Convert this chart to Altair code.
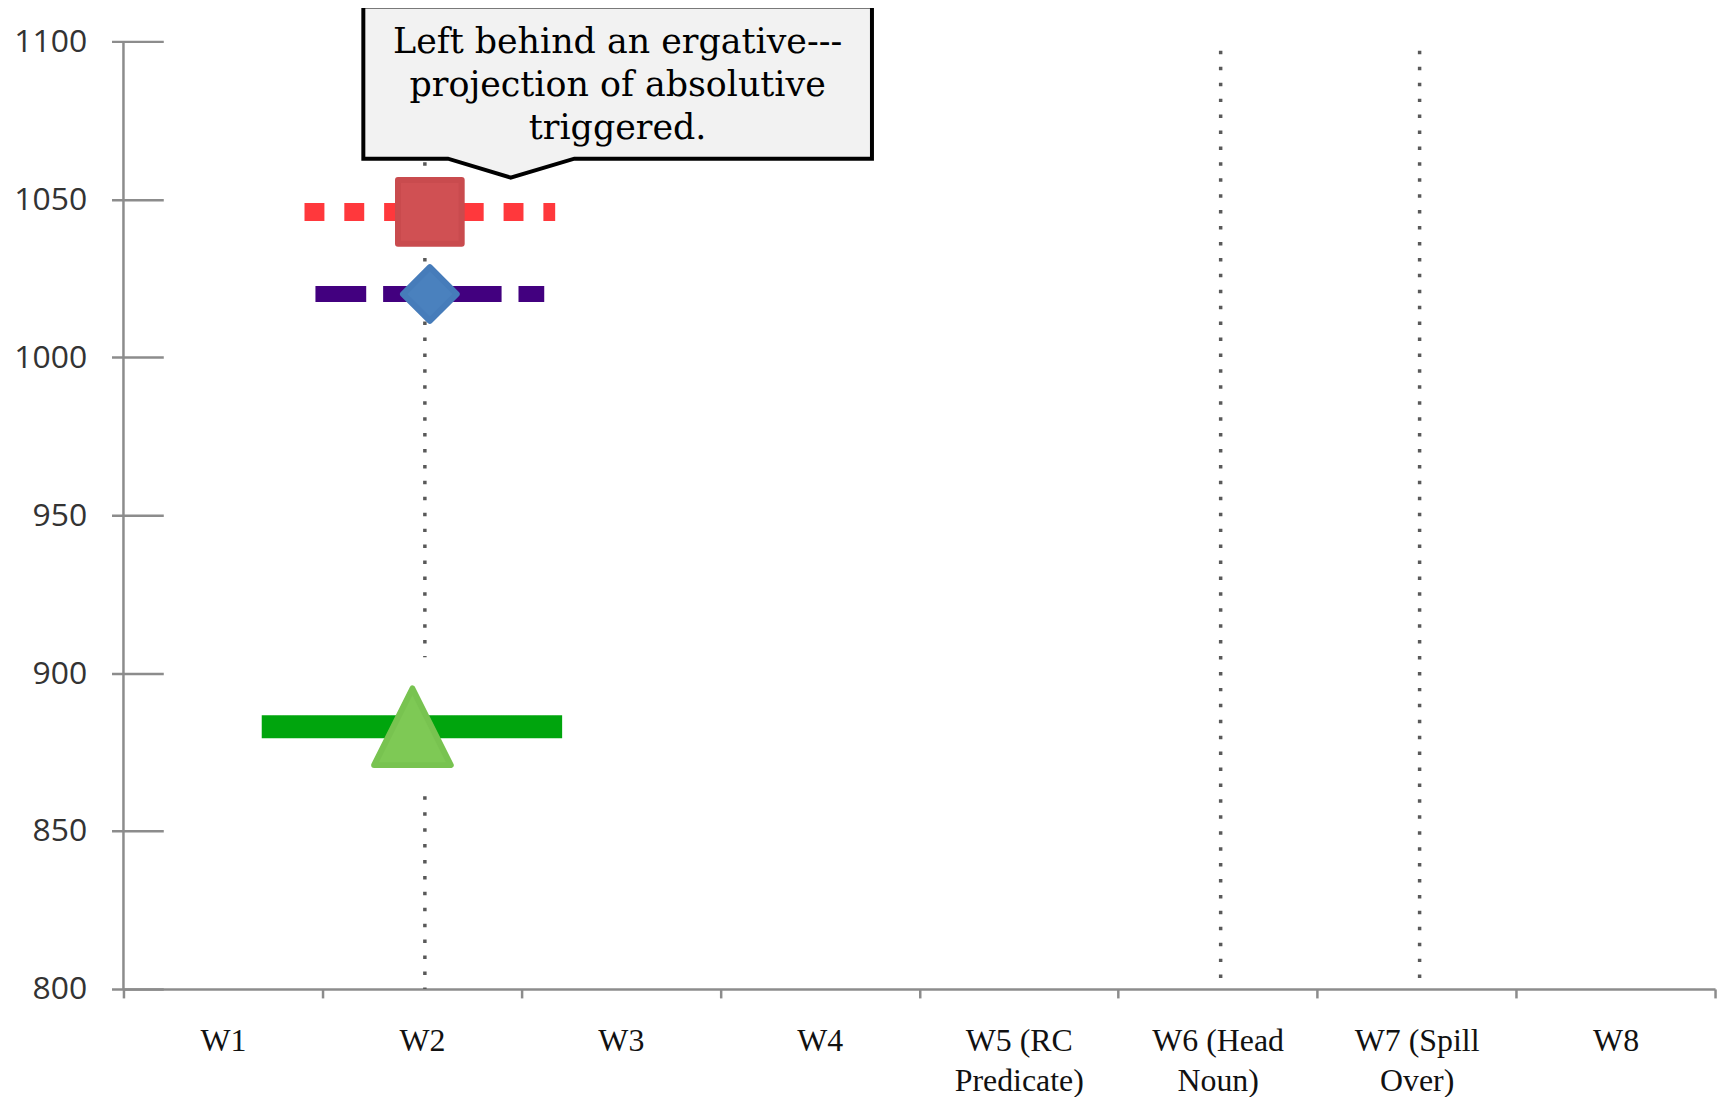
import altair as alt
import pandas as pd

# ---------------- data ----------------
categories = ["W1", "W2", "W3", "W4", "W5 (RC Predicate)", "W6 (Head Noun)", "W7 (Spill Over)", "W8"]
y_ticks = [800, 850, 900, 950, 1000, 1050, 1100]

series_names = ["Series 1", "Series 2", "Series 3"]
series_words = ["W2", "W2", "W2"]
series_values = [1046, 1020, 883]

guide_words = ["W2", "W2", "W6 (Head Noun)", "W7 (Spill Over)"]
guide_top = [1097, 861, 1097, 1097]
guide_bottom = [905, 800, 800, 800]

callout_text = "Left behind an ergative---\nprojection of absolutive\ntriggered."

# ---------------- layout / style (not data) ----------------
W, H = 1599, 952
AXIS_GRAY = "#8c8c8c"
seg_start = [0.91, 0.965, 0.695]   # horizontal extents of the series bars, in band units
seg_end = [2.17, 2.115, 2.205]
line_colors = ["#FF383C", "#42007F", "#00A50D"]
line_widths = [18, 16, 23]
line_dash = [[20, 20], [51, 17], [1, 0]]

yscale = alt.Scale(domain=[800, 1100], nice=False, zero=False)
qscale = alt.Scale(domain=[0, 8], nice=False, zero=False)
band_scale = alt.Scale(type="band", domain=categories, paddingInner=0, paddingOuter=0)

label_expr = ("length(split(datum.label, ' ')) > 2 ? "
              "[split(datum.label, ' ')[0] + ' ' + split(datum.label, ' ')[1], split(datum.label, ' ')[2]]"
              " : datum.label")

x_axis = alt.Axis(title=None, tickBand="extent", labelAngle=0, labelExpr=label_expr,
                  labelFont="Liberation Serif", labelFontSize=32, labelColor="#111111",
                  labelLineHeight=40, labelPadding=28, tickSize=9, tickColor=AXIS_GRAY,
                  tickWidth=2.5, domainColor=AXIS_GRAY, domainWidth=2.5, labelOverlap=False,
                  labelLimit=0, grid=False)
y_axis = alt.Axis(title=None, values=y_ticks, format="d", offset=-40, tickSize=52, domain=False,
                  grid=False, labelFont="Open Sans", labelFontSize=32, labelColor="#333333",
                  labelPadding=25, tickColor=AXIS_GRAY, tickWidth=2.5)


def Y(field):
    return alt.Y(field, scale=yscale, axis=y_axis, title=None)


guides = pd.DataFrame({"word": guide_words, "top": guide_top, "bottom": guide_bottom})
guide_layer = alt.Chart(guides).mark_rule(
    color="#595959", strokeWidth=3.5, strokeDash=[3.5, 12.5], xOffset=3
).encode(
    x=alt.X("word:N", scale=band_scale, axis=x_axis),
    y=Y("top:Q"),
    y2="bottom:Q",
)

# y-axis domain line
yline_df = pd.DataFrame({"xq": [0], "lo": [y_ticks[0]], "hi": [y_ticks[-1]]})
yline = alt.Chart(yline_df).mark_rule(color=AXIS_GRAY, strokeWidth=2.5).encode(
    x=alt.X("xq:Q", scale=qscale, axis=None),
    y=Y("lo:Q"),
    y2="hi:Q",
)

series_df = pd.DataFrame({"series": series_names, "word": series_words, "value": series_values,
                          "x0": seg_start, "x1": seg_end})

line_layers = []
for i, name in enumerate(series_names):
    line_layers.append(
        alt.Chart(series_df).transform_filter(alt.datum.series == name).mark_rule(
            color=line_colors[i], strokeWidth=line_widths[i], strokeDash=line_dash[i], strokeCap="butt"
        ).encode(
            x=alt.X("x0:Q", scale=qscale, axis=None),
            x2="x1:Q",
            y=Y("value:Q"),
        )
    )

marker_specs = [
    dict(shape="square", size=4096, fill="#D05053", stroke="#C94B4E", xOffset=8),
    dict(shape="diamond", size=2916, fill="#4A81BE", stroke="#467CBA", xOffset=8),
    dict(shape="M0,-1L1,1L-1,1Z", size=5929, fill="#7EC955", stroke="#78C350", xOffset=-9.5),
]
marker_layers = []
for i, name in enumerate(series_names):
    s = marker_specs[i]
    marker_layers.append(
        alt.Chart(series_df).transform_filter(alt.datum.series == name).mark_point(
            shape=s["shape"], size=s["size"], filled=True, fill=s["fill"], stroke=s["stroke"],
            strokeWidth=6, strokeJoin="round", opacity=1, xOffset=s["xOffset"]
        ).encode(
            x=alt.X("word:N", scale=band_scale, axis=None),
            y=Y("value:Q"),
        )
    )

# callout annotation
callout_df = pd.DataFrame({"xq": [2.484], "yv": [1086.5], "text": [callout_text]})
callout_path = "M-255.5,-78L255.5,-78L255.5,75L-43.5,75L-107.5,94L-170.5,75L-255.5,75Z"
callout_box = alt.Chart(callout_df).mark_point(
    shape=callout_path, size=4, filled=True, fill="#F2F2F2", stroke="#000000", strokeWidth=4,
    strokeJoin="miter", opacity=1
).encode(
    x=alt.X("xq:Q", scale=qscale, axis=None),
    y=Y("yv:Q"),
)
callout_txt = alt.Chart(callout_df).mark_text(
    font="DejaVu Serif", fontSize=35, lineHeight=43, lineBreak="\n", align="center",
    baseline="middle", color="#000000", dy=-42
).encode(
    x=alt.X("xq:Q", scale=qscale, axis=None),
    y=Y("yv:Q"),
    text="text:N",
)

chart = alt.layer(
    guide_layer, yline, *line_layers, *marker_layers, callout_box, callout_txt
).resolve_scale(x="independent").properties(
    width=W, height=H,
    autosize=alt.AutoSizeParams(type="none"),
    padding={"left": 116, "top": 31, "right": 9, "bottom": 106},
    background="white",
).configure_view(stroke=None)

chart.save("out.html", embed_options={"renderer": "svg", "actions": False})
